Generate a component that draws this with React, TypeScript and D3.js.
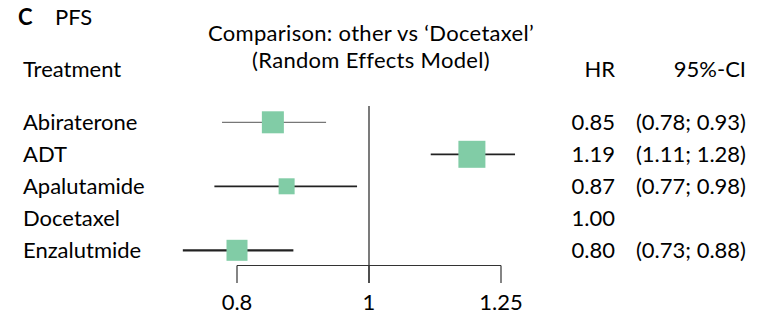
import React from "react";
import * as d3 from "d3";

const treatments = ["Abiraterone", "ADT", "Apalutamide", "Docetaxel", "Enzalutmide"];
const hr = [0.85, 1.19, 0.87, 1.0, 0.8];
const lower = [0.78, 1.11, 0.77, null, 0.73];
const upper = [0.93, 1.28, 0.98, null, 0.88];
const boxSize = [22, 27, 16, 0, 21];
const lineWidth = [1, 1.7, 1.8, 0, 2.2];
const hrLabels = ["0.85", "1.19", "0.87", "1.00", "0.80"];
const ciLabels = ["(0.78; 0.93)", "(1.11; 1.28)", "(0.77; 0.98)", "", "(0.73; 0.88)"];
const tickValues = [0.8, 1, 1.25];
const tickLabels = ["0.8", "1", "1.25"];

const W = 770;
const H = 335;
const FONT = "Lato, 'Open Sans', sans-serif";
const FS = 22;

export default function App() {
  const x = d3.scaleLog().domain([0.8, 1.25]).range([237, 501]);
  const y = d3.scaleLinear().domain([0, 4]).range([122.3, 250.3]);
  const axisY = 265.5;
  const tickEnd = 283;
  const green = "#81cca6";
  const lineCol = "#333";

  return (
    <svg width={W} height={H} style={{ position: "absolute", left: 0, top: 0, background: "#fff" }}
      fontFamily={FONT} fontSize={FS}>
      <text x={18} y={25} fontWeight="bold">C</text>
      <text x={55} y={25}>PFS</text>
      <text x={371} y={41} textAnchor="middle" letterSpacing={0.3}>Comparison: other vs ‘Docetaxel’</text>
      <text x={371} y={68} textAnchor="middle" letterSpacing={0.3}>(Random Effects Model)</text>
      <text x={23} y={77}>Treatment</text>
      <text x={615} y={77} textAnchor="end">HR</text>
      <text x={746} y={77} textAnchor="end">95%-CI</text>

      {/* reference line */}
      <line x1={x(1)} x2={x(1)} y1={106} y2={tickEnd} stroke={lineCol} strokeWidth={1.3} />
      {/* axis */}
      <line x1={x(0.8)} x2={x(1.25)} y1={axisY} y2={axisY} stroke={lineCol} strokeWidth={1.2} />
      {tickValues.map((v, i) => (
        <g key={"t" + i}>
          <line x1={x(v)} x2={x(v)} y1={axisY} y2={tickEnd} stroke={lineCol} strokeWidth={1.2} />
          <text x={x(v)} y={310} textAnchor="middle">{tickLabels[i]}</text>
        </g>
      ))}

      {treatments.map((t, i) => {
        const cy = y(i);
        const lo = lower[i];
        const up = upper[i];
        const s = boxSize[i];
        return (
          <g key={t}>
            <text x={23} y={cy + 7.7}>{t}</text>
            {lo !== null && up !== null && (
              <line x1={x(lo)} x2={x(up)} y1={cy} y2={cy} stroke={i === 0 ? "#555" : "#222"} strokeWidth={lineWidth[i]} />
            )}
            {s > 0 && (
              <rect x={x(hr[i]) - s / 2} y={cy - s / 2} width={s} height={s} fill={green} />
            )}
            <text x={615} y={cy + 7.7} textAnchor="end">{hrLabels[i]}</text>
            <text x={746} y={cy + 7.7} textAnchor="end">{ciLabels[i]}</text>
          </g>
        );
      })}
    </svg>
  );
}
